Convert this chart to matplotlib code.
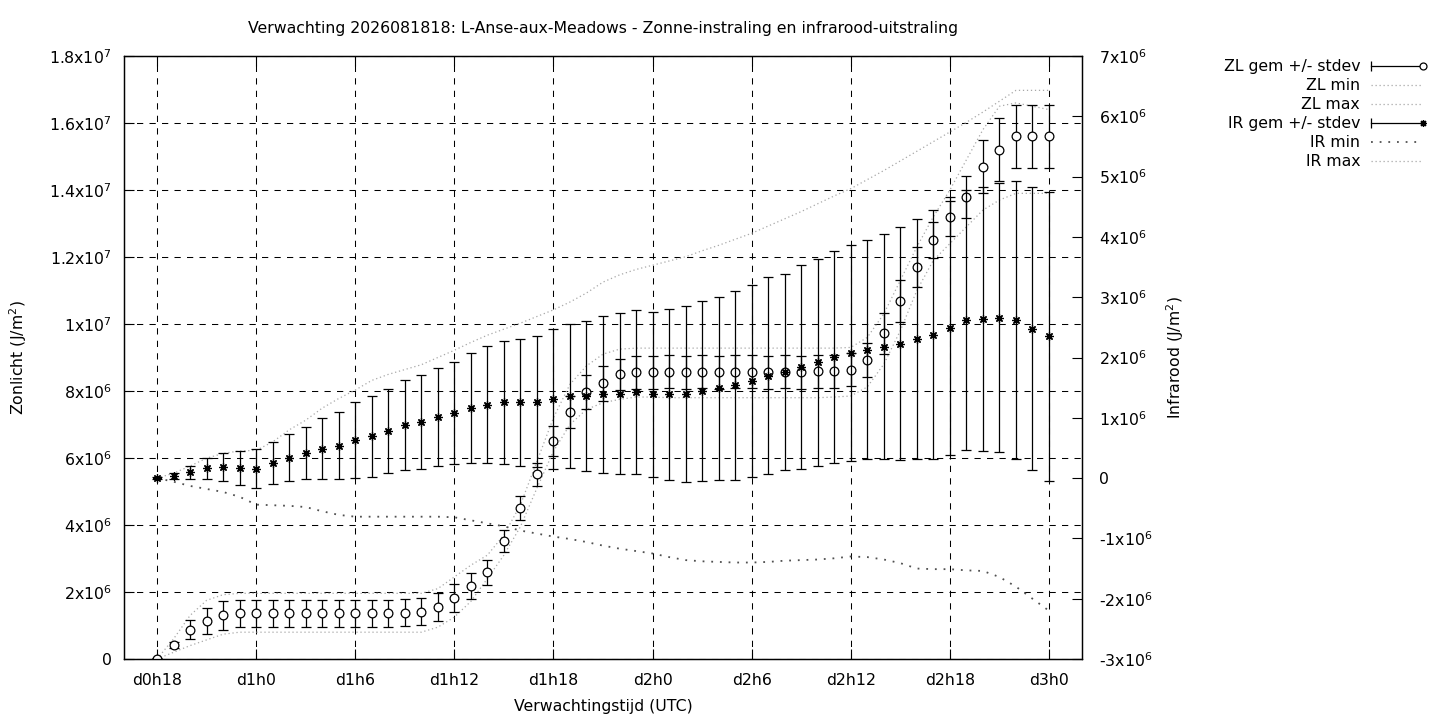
import matplotlib
matplotlib.use('Agg')
import numpy as np
import matplotlib.pyplot as plt
from matplotlib.lines import Line2D
from matplotlib.legend_handler import HandlerBase

plt.rcParams['font.family'] = 'DejaVu Sans'
plt.rcParams['font.size'] = 11.3
plt.rcParams['mathtext.default'] = 'regular'

# forecast steps, one per hour (hours after d0h0)
uren = list(range(18, 73))

# zonlicht (ZL), in 1e6 J/m2
zl_gem = [0.00, 0.42, 0.87, 1.13, 1.30, 1.37, 1.37, 1.37, 1.37, 1.37,
          1.37, 1.37, 1.37, 1.37, 1.37, 1.38, 1.41, 1.55, 1.82, 2.18,
          2.59, 3.52, 4.50, 5.51, 6.50, 7.37, 7.96, 8.23, 8.50, 8.56,
          8.56, 8.57, 8.56, 8.57, 8.56, 8.57, 8.57, 8.56, 8.57, 8.56,
          8.59, 8.59, 8.63, 8.93, 9.72, 10.69, 11.70, 12.50, 13.20, 13.80,
          14.70, 15.20, 15.60, 15.60, 15.60]
zl_sd = [0.02, 0.10, 0.28, 0.39, 0.42, 0.40, 0.40, 0.40, 0.40, 0.40,
         0.40, 0.40, 0.40, 0.40, 0.40, 0.40, 0.40, 0.43, 0.42, 0.40,
         0.38, 0.34, 0.36, 0.35, 0.45, 0.48, 0.51, 0.53, 0.46, 0.49,
         0.49, 0.49, 0.49, 0.49, 0.49, 0.49, 0.49, 0.49, 0.49, 0.49,
         0.49, 0.49, 0.49, 0.51, 0.61, 0.63, 0.60, 0.54, 0.58, 0.63,
         0.80, 0.94, 0.94, 0.94, 0.94]
zl_min = [0.00, 0.20, 0.40, 0.57, 0.74, 0.80, 0.80, 0.80, 0.80, 0.80,
          0.80, 0.80, 0.80, 0.80, 0.80, 0.80, 0.80, 0.95, 1.25, 1.72,
          2.40, 3.10, 3.95, 5.10, 6.20, 7.00, 7.45, 7.65, 7.75, 7.82,
          7.82, 7.80, 7.80, 7.80, 7.80, 7.80, 7.80, 7.80, 7.80, 7.80,
          7.80, 7.82, 7.85, 8.12, 8.80, 9.80, 11.00, 11.90, 12.40, 12.90,
          13.40, 13.70, 13.90, 13.90, 13.90]
zl_max = [0.00, 0.60, 1.30, 1.75, 1.92, 1.96, 1.96, 1.96, 1.96, 1.96,
          1.96, 1.96, 1.96, 1.96, 1.96, 1.96, 1.96, 2.10, 2.45, 2.80,
          3.10, 3.70, 4.60, 5.90, 7.20, 8.20, 8.75, 9.10, 9.25, 9.28,
          9.28, 9.28, 9.28, 9.28, 9.28, 9.28, 9.28, 9.28, 9.28, 9.28,
          9.28, 9.28, 9.30, 9.60, 10.30, 11.30, 12.30, 13.20, 14.00, 14.90,
          15.80, 16.50, 16.60, 16.50, 16.40]

# infrarood (IR), in 1e6 J/m2
ir_gem = [0.00, 0.04, 0.095, 0.16, 0.19, 0.165, 0.155, 0.25, 0.34, 0.41,
          0.49, 0.54, 0.625, 0.69, 0.78, 0.88, 0.93, 1.01, 1.08, 1.16,
          1.22, 1.255, 1.255, 1.27, 1.31, 1.36, 1.36, 1.39, 1.40, 1.42,
          1.39, 1.39, 1.40, 1.44, 1.49, 1.54, 1.61, 1.70, 1.76, 1.84,
          1.92, 2.01, 2.08, 2.13, 2.18, 2.23, 2.30, 2.38, 2.49, 2.62,
          2.64, 2.66, 2.62, 2.48, 2.35]
ir_sd = [0.01, 0.05, 0.11, 0.18, 0.23, 0.28, 0.32, 0.35, 0.39, 0.43,
         0.50, 0.56, 0.63, 0.67, 0.70, 0.74, 0.78, 0.81, 0.85, 0.91,
         0.97, 1.02, 1.06, 1.09, 1.16, 1.20, 1.25, 1.30, 1.33, 1.36,
         1.37, 1.42, 1.46, 1.49, 1.52, 1.57, 1.60, 1.63, 1.63, 1.69,
         1.72, 1.76, 1.79, 1.82, 1.87, 1.93, 1.99, 2.06, 2.11, 2.16,
         2.19, 2.23, 2.30, 2.35, 2.40]
ir_min = [0.00, -0.06, -0.13, -0.18, -0.23, -0.31, -0.44, -0.45, -0.46, -0.48,
          -0.55, -0.61, -0.64, -0.64, -0.64, -0.64, -0.64, -0.64, -0.65, -0.70,
          -0.75, -0.80, -0.87, -0.92, -0.97, -1.01, -1.06, -1.12, -1.17, -1.21,
          -1.25, -1.31, -1.36, -1.38, -1.39, -1.40, -1.40, -1.39, -1.37, -1.36,
          -1.35, -1.33, -1.30, -1.31, -1.35, -1.41, -1.50, -1.51, -1.51, -1.53,
          -1.54, -1.64, -1.80, -2.00, -2.20]
ir_max = [0.00, 0.08, 0.20, 0.33, 0.41, 0.45, 0.46, 0.60, 0.80, 0.96,
          1.16, 1.32, 1.46, 1.62, 1.72, 1.80, 1.88, 2.00, 2.12, 2.25,
          2.37, 2.47, 2.57, 2.68, 2.79, 2.92, 3.07, 3.25, 3.37, 3.46,
          3.53, 3.60, 3.67, 3.77, 3.86, 3.96, 4.06, 4.18, 4.30, 4.42,
          4.55, 4.68, 4.80, 4.95, 5.10, 5.26, 5.42, 5.58, 5.74, 5.90,
          6.07, 6.25, 6.43, 6.43, 6.43]

xtick_pos = [18, 24, 30, 36, 42, 48, 54, 60, 66, 72]
xtick_lab = ['d0h18', 'd1h0', 'd1h6', 'd1h12', 'd1h18',
             'd2h0', 'd2h6', 'd2h12', 'd2h18', 'd3h0']
ytick_lab = ['0', '2x10$^6$', '4x10$^6$', '6x10$^6$', '8x10$^6$', '1x10$^7$',
             '1.2x10$^7$', '1.4x10$^7$', '1.6x10$^7$', '1.8x10$^7$']
y2tick_lab = ['-3x10$^6$', '-2x10$^6$', '-1x10$^6$', '0', '1x10$^6$',
              '2x10$^6$', '3x10$^6$', '4x10$^6$', '5x10$^6$', '6x10$^6$', '7x10$^6$']

E6 = 1e6
LW = 0.9
FINE = (0, (1, 2.2))
SPARSE = (0, (1, 3.8))
star = (8, 2, 0)


class KeySample(HandlerBase):
    # gnuplot-like key sample: |----o  or a dotted line
    def __init__(self, marker=None, ls='-', color='black', lw=LW):
        super().__init__()
        self.marker = marker
        self.ls = ls
        self.color = color
        self.lw = lw

    def create_artists(self, legend, orig_handle, xdescent, ydescent,
                       width, height, fontsize, trans):
        y = height / 2 - ydescent
        x0, x1 = -xdescent, width - xdescent
        arts = [Line2D([x0, x1], [y, y], ls=self.ls, color=self.color,
                       lw=self.lw, transform=trans)]
        if self.marker is not None:
            arts.append(Line2D([x0], [y], ls='none', marker='|', ms=6.5,
                               mew=LW, color='black', transform=trans))
            arts.append(Line2D([x1], [y], ls='none', marker=self.marker, ms=5,
                               mew=LW, mfc='white', mec='black', transform=trans))
        return arts


fig = plt.figure(figsize=(14.4, 7.2), dpi=100)
ax = fig.add_axes([124 / 1440, 61 / 720, 958 / 1440, 603 / 720])
ax2 = ax.twinx()

h1 = ax.errorbar(uren, np.array(zl_gem) * E6, yerr=np.array(zl_sd) * E6,
                 fmt='o', ms=6.3, mfc='white', mec='black', mew=LW,
                 ecolor='black', elinewidth=LW, capsize=3.3, capthick=LW, zorder=3)
h2, = ax.plot(uren, np.array(zl_min) * E6, ls=FINE, color='#a8a8a8', lw=LW, zorder=2)
h3, = ax.plot(uren, np.array(zl_max) * E6, ls=FINE, color='#a8a8a8', lw=LW, zorder=2)

h4 = ax2.errorbar(uren, np.array(ir_gem) * E6, yerr=np.array(ir_sd) * E6,
                  fmt='none', ecolor='black', elinewidth=LW, capsize=3.3,
                  capthick=LW, zorder=3)
h4m, = ax2.plot(uren, np.array(ir_gem) * E6, ls='none', marker=star, ms=6,
                mew=LW, color='black', zorder=4)
h5, = ax2.plot(uren, np.array(ir_min) * E6, ls=SPARSE, color='#505050', lw=1.3, zorder=2)
h6, = ax2.plot(uren, np.array(ir_max) * E6, ls=FINE, color='#a8a8a8', lw=LW, zorder=2)

ax.set_xlim(16, 74)
ax.set_ylim(0, 1.8e7)
ax2.set_ylim(-3e6, 7e6)

ax.set_xticks(xtick_pos)
ax.set_xticklabels(xtick_lab)
ax.set_yticks(np.arange(0, 1.81e7, 2e6))
ax.set_yticklabels(ytick_lab)
ax2.set_yticks(np.arange(-3e6, 7.01e6, 1e6))
ax2.set_yticklabels(y2tick_lab)

ax.grid(True, color='black', ls=(0, (6, 6)), lw=0.75)
ax.set_axisbelow(True)
ax.tick_params(direction='in', length=7, width=0.8, top=True, right=False, pad=9)
ax.tick_params(axis='x', pad=10)
ax2.tick_params(direction='in', length=7, width=0.8, pad=12)
for a in (ax, ax2):
    for s in a.spines.values():
        s.set_linewidth(0.9)

fig.text(603 / 1440, 1 - 29 / 720,
         'Verwachting 2026081818: L-Anse-aux-Meadows - Zonne-instraling en infrarood-uitstraling',
         ha='center', va='center')
fig.text(603 / 1440, 1 - 707 / 720, 'Verwachtingstijd (UTC)', ha='center', va='center')
fig.text(18 / 1440, 1 - 358 / 720, 'Zonlicht (J/m$^2$)', rotation=90, ha='center', va='center')
fig.text(1175 / 1440, 1 - 358 / 720, 'Infrarood (J/m$^2$)', rotation=90, ha='center', va='center')

handles = [h1, h2, h3, h4, h5, h6]
labels = ['ZL gem +/- stdev', 'ZL min', 'ZL max', 'IR gem +/- stdev', 'IR min', 'IR max']
hmap = {
    h1: KeySample(marker='o'),
    h2: KeySample(ls=FINE, color='#a8a8a8'),
    h3: KeySample(ls=FINE, color='#a8a8a8'),
    h4: KeySample(marker=star),
    h5: KeySample(ls=SPARSE, color='#505050', lw=1.3),
    h6: KeySample(ls=FINE, color='#a8a8a8'),
}
fig.legend(handles, labels, handler_map=hmap, loc='upper right',
           bbox_to_anchor=(1423 / 1440, 1 - 59 / 720), frameon=False,
           markerfirst=False, handlelength=3.3, handletextpad=0.7,
           labelspacing=0.26, borderpad=0, borderaxespad=0)

fig.savefig('out.png', dpi=100)
